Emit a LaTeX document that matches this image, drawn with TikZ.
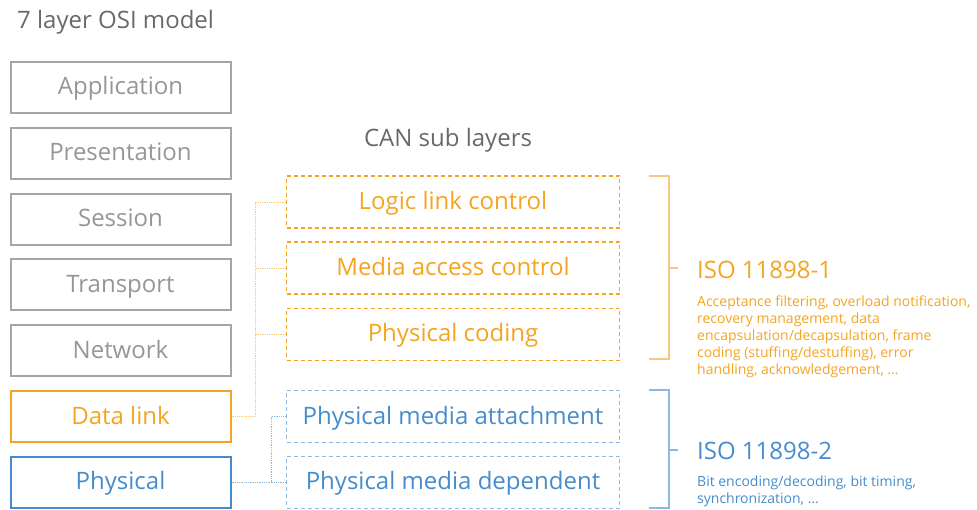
\documentclass[tikz,border=0pt]{standalone}
\usepackage{fontspec}
\setmainfont{Open Sans}
\definecolor{osigray}{RGB}{165,165,165}
\definecolor{ositext}{RGB}{150,150,150}
\definecolor{titlegray}{RGB}{105,105,105}
\definecolor{canorange}{RGB}{245,164,32}
\definecolor{canblue}{RGB}{70,140,205}
\definecolor{lightorange}{RGB}{248,200,130}
\definecolor{lightblue}{RGB}{140,185,228}

\begin{document}
\begin{tikzpicture}[x=1pt,y=-1pt,
  bigtext/.style={font=\fontsize{24}{29}\selectfont},
  headtext/.style={font=\fontsize{24}{28}\selectfont, text=titlegray, inner sep=0pt},
  osibox/.style={draw=osigray, line width=2pt, minimum width=220pt, minimum height=51pt,
    inner sep=0pt, text height=18pt, text depth=3pt, text=ositext, bigtext},
  sublayer/.style={draw, dashed, dash pattern=on 4pt off 3pt, line width=1.5pt,
    minimum width=333pt, minimum height=52pt, inner sep=0pt,
    text height=18pt, text depth=3pt, bigtext},
  linkline/.style={densely dotted, line width=0.8pt},
  bracket/.style={line width=1.5pt},
  isotext/.style={anchor=base west, inner sep=0pt, bigtext},
  notetext/.style={anchor=north west, inner sep=0pt, align=left,
    font=\fontsize{14}{17}\selectfont}
]
\useasboundingbox (0,0) rectangle (977,510);

% headings
\node[headtext, anchor=base west] (title) at (17,29) {7 layer OSI model};
\node[headtext, anchor=base] (canhead) at (448,147) {CAN sub layers};

% OSI stack
\node[osibox] (app) at (120.5,87.5) {Application};
\node[osibox] (pres) at (120.5,153.3) {Presentation};
\node[osibox] (sess) at (120.5,219.1) {Session};
\node[osibox] (trans) at (120.5,284.9) {Transport};
\node[osibox] (net) at (120.5,350.7) {Network};
\node[osibox, draw=canorange, text=canorange] (dl) at (120.5,416.5) {Data link};
\node[osibox, draw=canblue, text=canblue] (phy) at (120.5,482.3) {Physical};

% CAN sub layers
\node[sublayer, draw=canorange, text=canorange] (llc) at (453,202) {Logic link control};
\node[sublayer, draw=canorange, text=canorange] (mac) at (453,268) {Media access control};
\node[sublayer, draw=canorange, text=canorange] (pc) at (453,334.5) {Physical coding};
\node[sublayer, draw=lightblue, text=canblue] (pma) at (453,416.5) {Physical media attachment};
\node[sublayer, draw=lightblue, text=canblue] (pmd) at (453,482.3) {Physical media dependent};

% links from the OSI layers to their sub layers
\coordinate (obus) at (255,202);
\coordinate (bbus) at (271,416.5);
\draw[linkline, lightorange] (dl.east) -- (dl.east -| obus) -- (obus) -- (llc.west);
\draw[linkline, lightorange] (mac.west) -- (mac.west -| obus);
\draw[linkline, lightorange] (pc.west) -- (pc.west -| obus);
\draw[linkline, lightblue] (phy.east) -- (phy.east -| bbus) -- (bbus) -- (pma.west);
\draw[linkline, lightblue] (pmd.west) -- (pmd.west -| bbus);

% brackets grouping the standards
\coordinate (ob1) at (649,176);
\coordinate (ob2) at (649,359);
\coordinate (otick) at (678,268);
\draw[bracket, lightorange] (ob1) -- (669,176) -- (669,359) -- (ob2);
\draw[bracket, lightorange] (669,268) -- (otick);
\coordinate (bb1) at (649,390);
\coordinate (bb2) at (649,508);
\coordinate (btick) at (678,450);
\draw[bracket, lightblue] (bb1) -- (669,390) -- (669,508) -- (bb2);
\draw[bracket, lightblue] (669,450) -- (btick);

% standards and their duties
\node[isotext, text=canorange] (iso1) at (697,278.5) {ISO 11898-1};
\node[notetext, text=canorange] (iso1note) at (697,296) {Acceptance filtering, overload notification,\\
recovery management, data\\
encapsulation/decapsulation, frame\\
coding (stuffing/destuffing), error\\
handling, acknowledgement, \dots};
\node[isotext, text=canblue] (iso2) at (697,459) {ISO 11898-2};
\node[notetext, text=canblue] (iso2note) at (697,476) {Bit encoding/decoding, bit timing,\\
synchronization, \dots};
\end{tikzpicture}
\end{document}
